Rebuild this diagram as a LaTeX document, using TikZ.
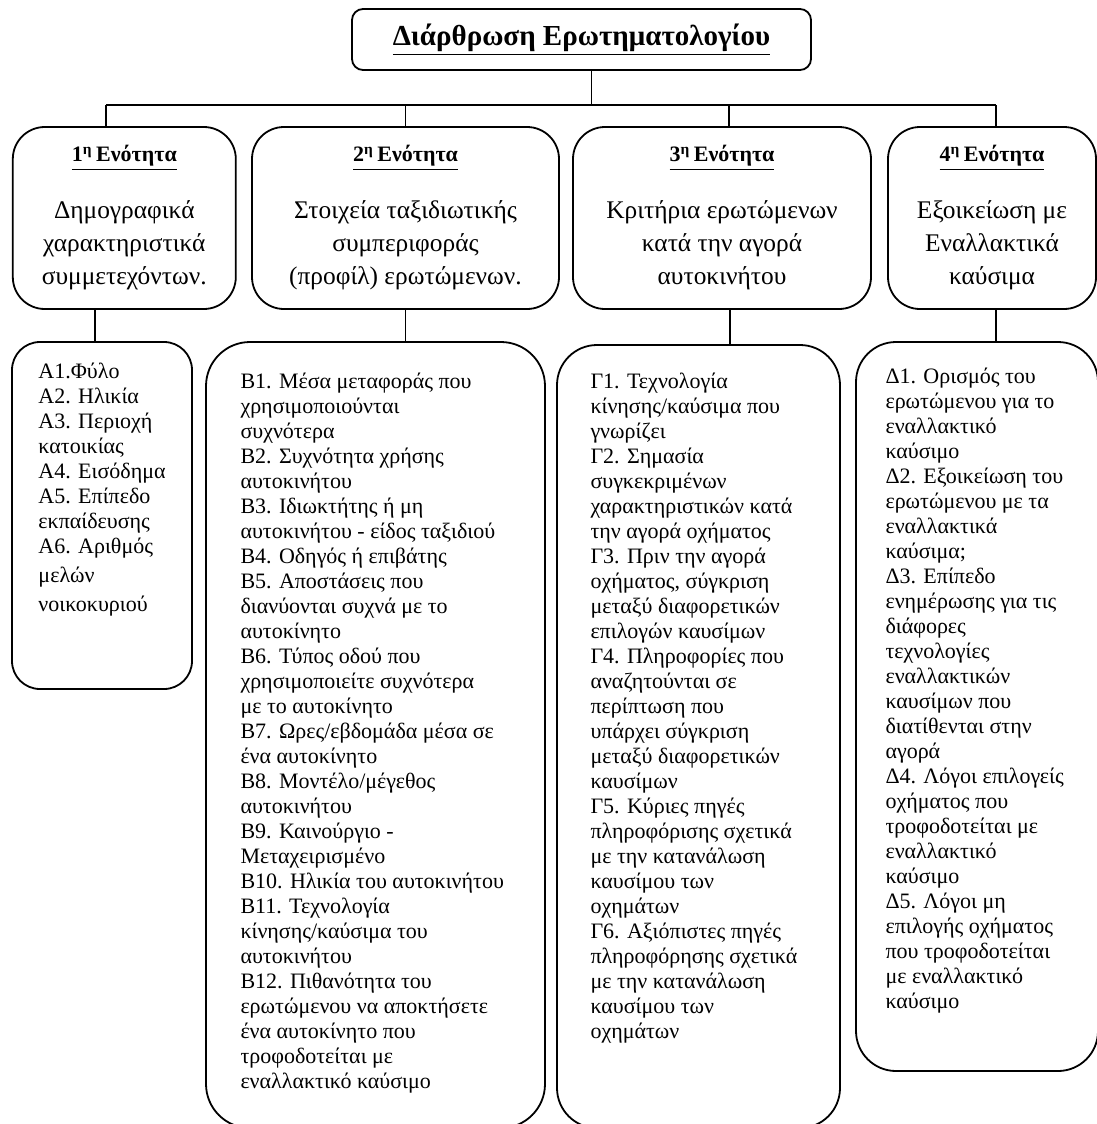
\documentclass[tikz,border=0pt]{standalone}
\usepackage{fontspec}
\setmainfont{Liberation Serif}
\usetikzlibrary{calc}
\tikzset{
  titlebox/.style={draw, line width=0.9pt, rounded corners=5.5pt, minimum width=229.5pt, minimum height=30.5pt, font=\fontsize{14.5}{16}\selectfont\bfseries},
  partbox/.style={draw, line width=0.9pt, rounded corners=16pt, minimum height=91pt, align=center, font=\fontsize{12.7}{16.5}\selectfont},
  listbox/.style={draw, line width=0.9pt},
  listtext/.style={anchor=north west, inner sep=0pt, align=left, font=\fontsize{11}{12.5}\selectfont},
  link/.style={line width=0.9pt}
}
\newcommand{\parthead}[1]{{\fontsize{11}{13}\selectfont\bfseries\underline{#1\textsuperscript{η}\,Ενότητα}}}

\begin{document}
\begin{tikzpicture}[x=0.5pt,y=-0.5pt]
\clip (0,0) rectangle (1097,1124);
% title
\node[titlebox] (title) at (581.5,39.5) {\underline{Διάρθρωση Ερωτηματολογίου}};
\coordinate (busL) at (106,105);
\coordinate (busR) at (996,105);
% sections
\node[partbox, minimum width=111.5pt] (s1) at (124.3,218) {\parthead{1}\\[12pt] Δημογραφικά\\ χαρακτηριστικά\\ συμμετεχόντων.};
\node[partbox, minimum width=153.5pt] (s2) at (405.5,218) {\parthead{2}\\[12pt] Στοιχεία ταξιδιωτικής\\ συμπεριφοράς\\ (προφίλ) ερωτώμενων.};
\node[partbox, minimum width=149pt] (s3) at (722,218) {\parthead{3}\\[12pt] Κριτήρια ερωτώμενων\\ κατά την αγορά\\ αυτοκινήτου};
\node[partbox, minimum width=104pt] (s4) at (992,218) {\parthead{4}\\[12pt] Εξοικείωση με\\ Εναλλακτικά\\ καύσιμα};
% lists
\node[listbox, rounded corners=14pt, minimum width=90pt, minimum height=173.5pt] (l1) at (102,515.5) {};
\node[listbox, rounded corners=22pt, minimum width=169.5pt, minimum height=393pt] (l2) at (375.5,735) {};
\node[listbox, rounded corners=20pt, minimum width=141.5pt, minimum height=391.5pt] (l3) at (698.5,736.5) {};
\node[listbox, rounded corners=20pt, minimum width=121pt, minimum height=364.5pt] (l4) at (977,706.5) {};

\node[listtext] (t1) at ($(l1.north west)+(27,21)$) {Α1.Φύλο\\ Α2. Ηλικία\\ Α3. Περιοχή\\ κατοικίας\\ Α4. Εισόδημα\\ Α5. Επίπεδο\\ εκπαίδευσης\\ Α6. Αριθμός\\[2pt] μελών\\[2pt] νοικοκυριού};
\node[listtext] (t2) at ($(l2.north west)+(35,31)$) {Β1. Μέσα μεταφοράς που\\ χρησιμοποιούνται\\ συχνότερα\\ Β2. Συχνότητα χρήσης\\ αυτοκινήτου\\ Β3. Ιδιωκτήτης ή μη\\ αυτοκινήτου - είδος ταξιδιού\\ Β4. Οδηγός ή επιβάτης\\ Β5. Αποστάσεις που\\ διανύονται συχνά με το\\ αυτοκίνητο\\ Β6. Τύπος οδού που\\ χρησιμοποιείτε συχνότερα\\ με το αυτοκίνητο\\ Β7. Ωρες/εβδομάδα μέσα σε\\ ένα αυτοκίνητο\\ Β8. Μοντέλο/μέγεθος\\ αυτοκινήτου\\ Β9. Καινούργιο -\\ Μεταχειρισμένο\\ Β10. Ηλικία του αυτοκινήτου\\ Β11. Τεχνολογία\\ κίνησης/καύσιμα του\\ αυτοκινήτου\\ Β12. Πιθανότητα του\\ ερωτώμενου να αποκτήσετε\\ ένα αυτοκίνητο που\\ τροφοδοτείται με\\ εναλλακτικό καύσιμο};
\node[listtext] (t3) at ($(l3.north west)+(34,28)$) {Γ1. Τεχνολογία\\ κίνησης/καύσιμα που\\ γνωρίζει\\ Γ2. Σημασία\\ συγκεκριμένων\\ χαρακτηριστικών κατά\\ την αγορά οχήματος\\ Γ3. Πριν την αγορά\\ οχήματος, σύγκριση\\ μεταξύ διαφορετικών\\ επιλογών καυσίμων\\ Γ4. Πληροφορίες που\\ αναζητούνται σε\\ περίπτωση που\\ υπάρχει σύγκριση\\ μεταξύ διαφορετικών\\ καυσίμων\\ Γ5. Κύριες πηγές\\ πληροφόρισης σχετικά\\ με την κατανάλωση\\ καυσίμου των\\ οχημάτων\\ Γ6. Αξιόπιστες πηγές\\ πληροφόρησης σχετικά\\ με την κατανάλωση\\ καυσίμου των\\ οχημάτων};
\node[listtext] (t4) at ($(l4.north west)+(30,26)$) {Δ1. Ορισμός του\\ ερωτώμενου για το\\ εναλλακτικό\\ καύσιμο\\ Δ2. Εξοικείωση του\\ ερωτώμενου με τα\\ εναλλακτικά\\ καύσιμα;\\ Δ3. Επίπεδο\\ ενημέρωσης για τις\\ διάφορες\\ τεχνολογίες\\ εναλλακτικών\\ καυσίμων που\\ διατίθενται στην\\ αγορά\\ Δ4. Λόγοι επιλογείς\\ οχήματος που\\ τροφοδοτείται με\\ εναλλακτικό\\ καύσιμο\\ Δ5. Λόγοι μη\\ επιλογής οχήματος\\ που τροφοδοτείται\\ με εναλλακτικό\\ καύσιμο};

% connectors
\draw[link] ([xshift=5pt]title.south) -- ([xshift=5pt]title.south |- busL);
\draw[link] (busL) -- (busR);
\draw[link] (busL) -- (busL |- s1.north);
\draw[link] (s2.north |- busL) -- (s2.north);
\draw[link] ([xshift=3.5pt]s3.north |- busL) -- ([xshift=3.5pt]s3.north);
\draw[link] (busR) -- (busR |- s4.north);
\draw[link] ([xshift=-14.5pt]s1.south) -- ([xshift=-14.5pt]s1.south |- l1.north);
\draw[link] (s2.south) -- (s2.south |- l2.north);
\draw[link] ([xshift=4pt]s3.south) -- ([xshift=4pt]s3.south |- l3.north);
\draw[link] ([xshift=2pt]s4.south) -- ([xshift=2pt]s4.south |- l4.north);
\end{tikzpicture}
\end{document}
